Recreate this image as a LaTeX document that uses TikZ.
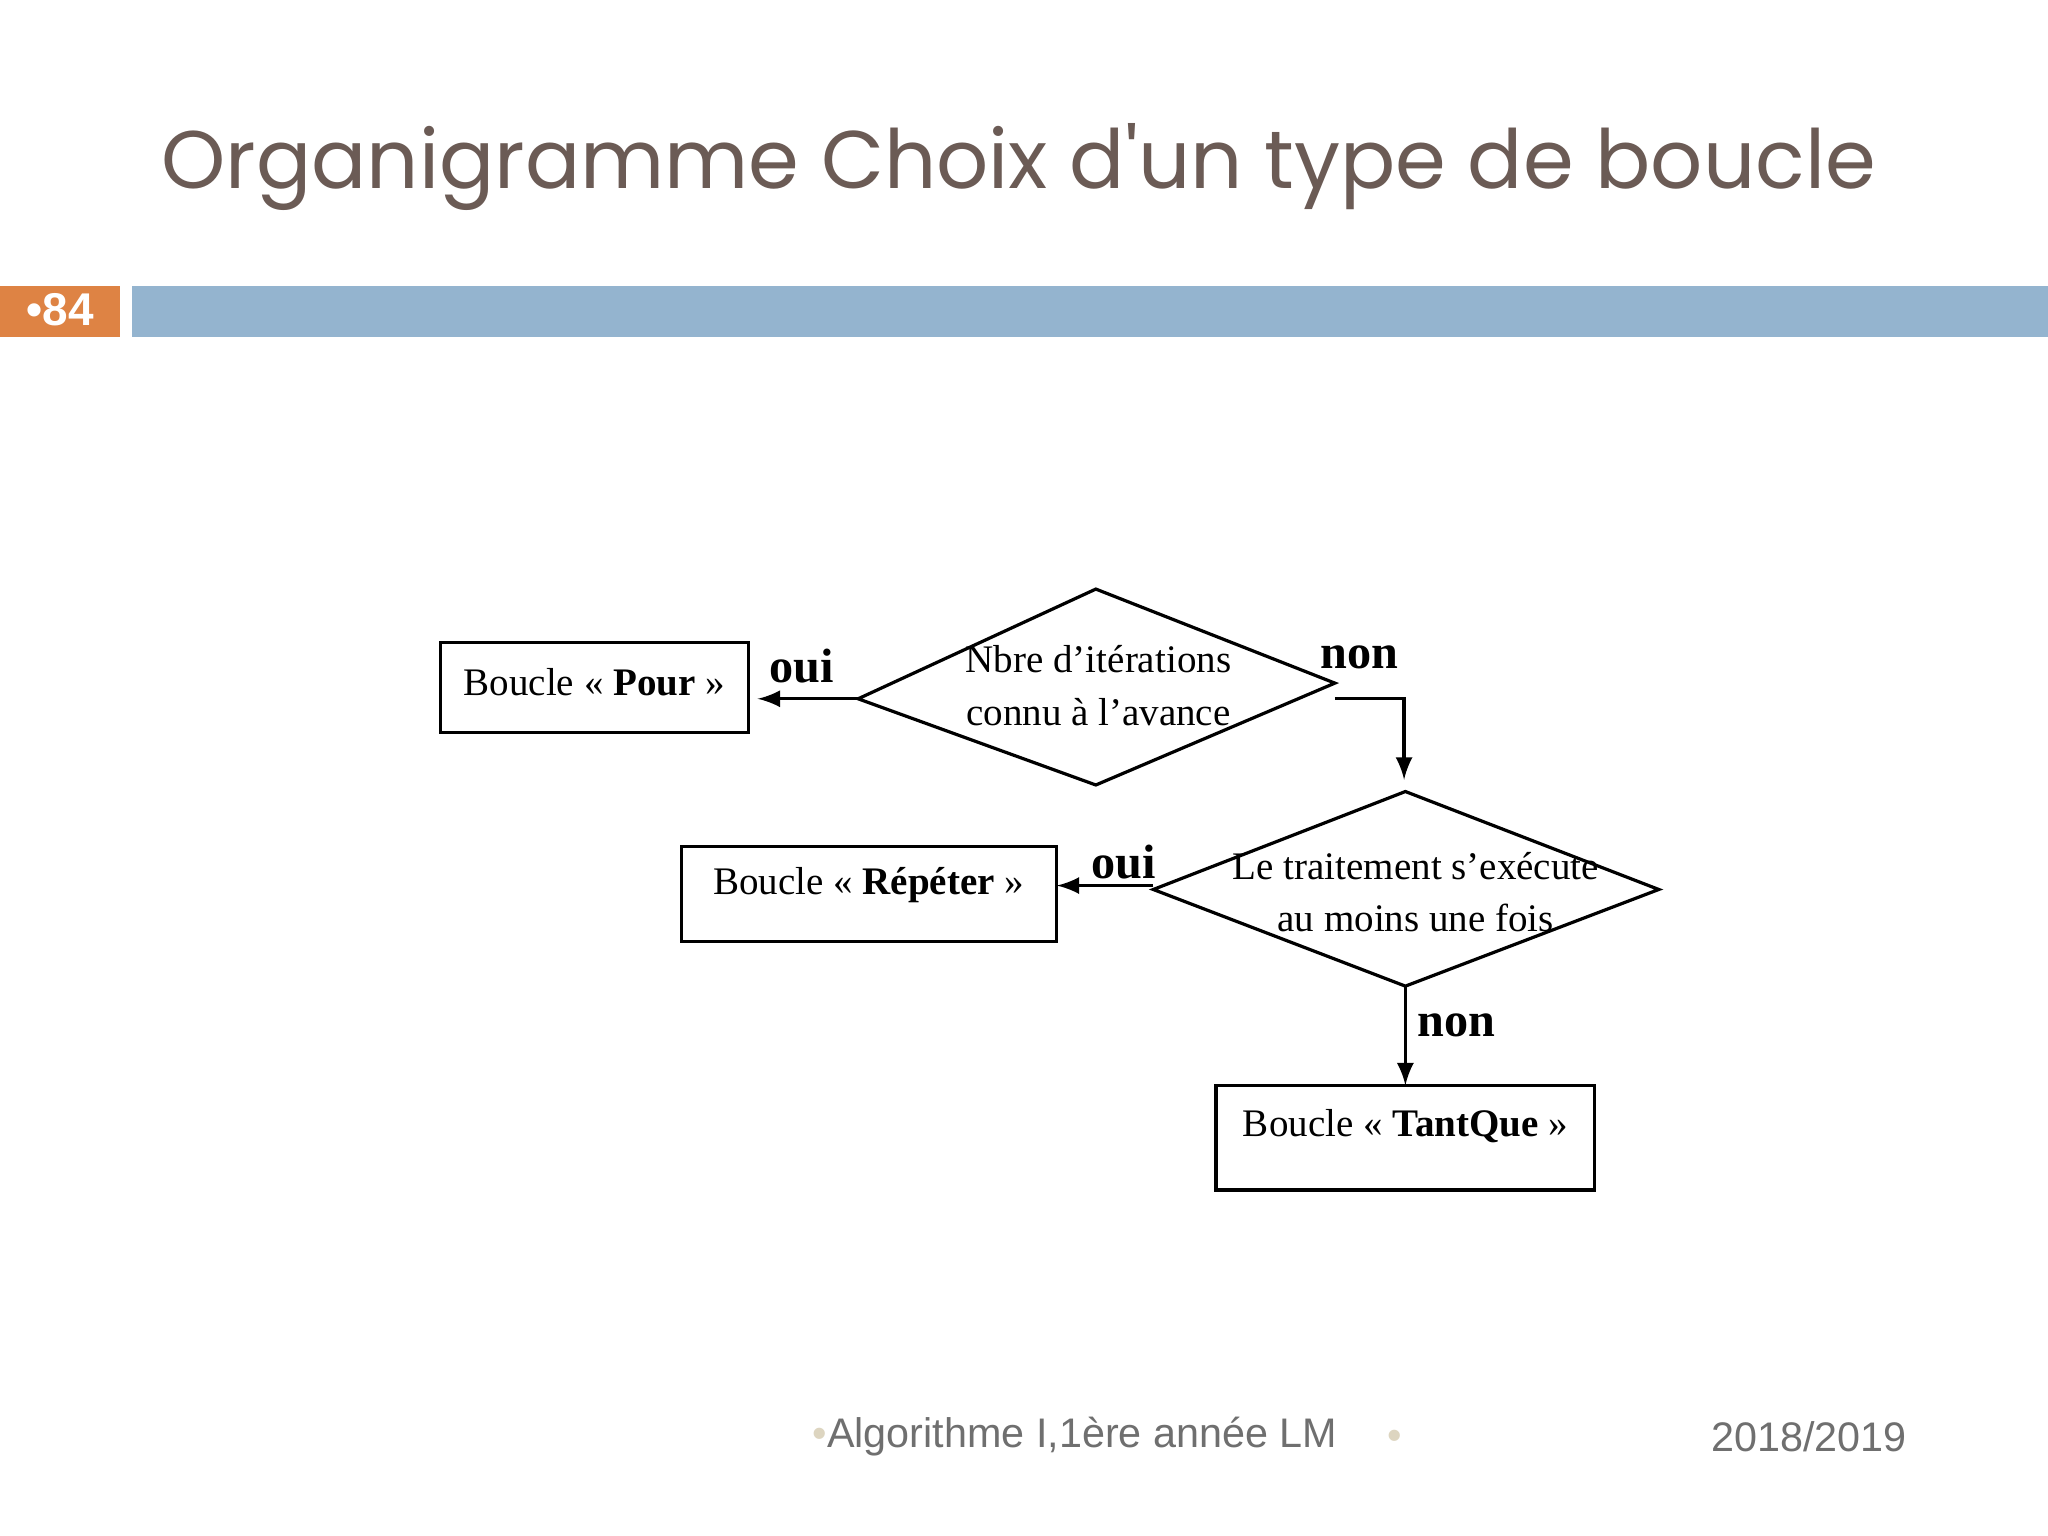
\documentclass[tikz,border=0pt]{standalone}
\usepackage{fontspec}
\setmainfont{Liberation Serif}
\newfontfamily\titlefont{Poppins}
\newfontfamily\footfont{Liberation Sans}
\begin{document}
\begin{tikzpicture}[x=0.1mm,y=-0.1mm,
  lbl/.style={font=\fontsize{10.5}{12}\selectfont\bfseries},
  arr/.style={-latex,line width=0.7pt},
  edge/.style={line width=0.7pt},
  dtext/.style={font=\fontsize{8.5}{11.5}\selectfont,align=center}]
\useasboundingbox (0,0) rectangle (1568,1176);
\fill[white] (0,0) rectangle (1568,1176);
\definecolor{brn}{HTML}{6B5B55}
\definecolor{barblue}{HTML}{94B4CF}
\definecolor{org}{HTML}{DE8344}
\definecolor{ftg}{HTML}{6F6F6F}
\definecolor{bul}{HTML}{DDD5C0}
\node[text=brn,font=\titlefont\fontsize{17.8}{22}\selectfont] (title) at (780,128) {Organigramme Choix d'un type de boucle};
\fill[org] (0,219) rectangle (92,258);
\node[text=white,font=\footfont\bfseries\fontsize{10}{12}\selectfont] (num) at (46,237) {\textbullet84};
\fill[barblue] (101,219) rectangle (1568,258);
% boxes
\draw[edge] (337,492) rectangle (573,561);
\node[dtext] (pourt) at (455,522) {Boucle « \textbf{Pour} »};
\draw[edge] (522,648) rectangle (809,721);
\node[dtext] (rept) at (665,678) {Boucle « \textbf{Répéter} »};
\draw[edge] (931,831) rectangle (1221,911);
\node[dtext] (tqt) at (1076,862) {Boucle « \textbf{TantQue} »};
% diamonds
\coordinate (d1l) at (657,535); \coordinate (d1t) at (839,451);
\coordinate (d1r) at (1022,523); \coordinate (d1b) at (839,601);
\draw[edge] (d1l) -- (d1t) -- (d1r) -- (d1b) -- cycle;
\node[dtext] (d1) at (841,525) {Nbre d'itérations\\connu à l'avance};
\coordinate (d2l) at (883,681); \coordinate (d2t) at (1076,606);
\coordinate (d2r) at (1270,681); \coordinate (d2b) at (1076,755);
\draw[edge] (d2l) -- (d2t) -- (d2r) -- (d2b) -- cycle;
\node[dtext] (d2) at (1084,683) {Le traitement s'exécute\\au moins une fois};
% connectors
\coordinate (a1) at (658,535); \coordinate (a1e) at (580,535);
\draw[arr] (a1) -- (a1e);
\node[lbl] (oui1) at (614,510) {oui};
\coordinate (n1) at (1022,535); \coordinate (n1c) at (1075,535); \coordinate (n1e) at (1075,597);
\draw[arr] (n1) -- (n1c) -- (n1e);
\node[lbl] (non1) at (1041,503) {non};
\coordinate (a2) at (883,678); \coordinate (a2e) at (809,678);
\draw[arr] (a2) -- (a2e);
\node[lbl] (oui2) at (860,660) {oui};
\coordinate (a3e) at (1076,831);
\draw[arr] (d2b) -- (a3e);
\node[lbl] (non2) at (1115,785) {non};
% footer
\node[text=ftg,font=\footfont\fontsize{9}{11}\selectfont] (f1) at (823,1100) {\textcolor{bul}{\textbullet}Algorithme I,1ère année LM};
\node[text=bul,font=\footfont\fontsize{9}{11}\selectfont] (f2) at (1068,1102) {\textbullet};
\node[text=ftg,font=\footfont\fontsize{9}{11}\selectfont] (f3) at (1385,1100) {2018/2019};
\end{tikzpicture}
\end{document}
